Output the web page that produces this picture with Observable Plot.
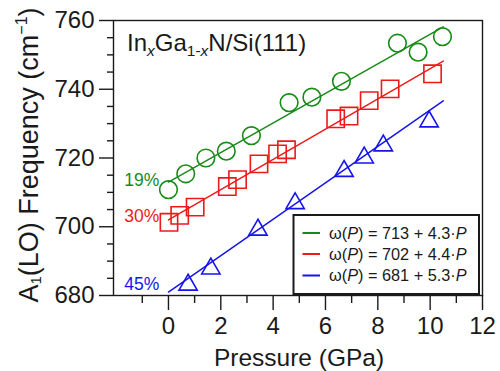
<!DOCTYPE html>
<html><head><meta charset="utf-8">
<script src="https://cdn.jsdelivr.net/npm/d3@7"></script>
<script src="https://cdn.jsdelivr.net/npm/@observablehq/plot@0.6"></script>
<style>
html,body{margin:0;padding:0;background:#fff;}
#chart svg{font-family:"Liberation Sans",Arial,Helvetica,sans-serif;display:block;}
</style></head><body><div id="chart"></div>
<script>
// ---- data ----
const pGreen = [0, 0.66, 1.43, 2.21, 3.17, 4.61, 5.48, 6.61, 8.75, 9.54, 10.47];
const wGreen = [710.8, 715.4, 720.0, 722.0, 726.5, 736.1, 737.7, 742.3, 753.4, 750.8, 755.3];
const pRed = [0.02, 0.43, 1.02, 2.25, 2.64, 3.46, 4.17, 4.51, 6.39, 6.9, 7.67, 8.47, 10.09];
const wRed = [701.3, 703.3, 705.7, 711.7, 713.7, 718.3, 721.2, 722.4, 731.4, 732.2, 736.7, 740.1, 744.5];
const pBlue = [0.75, 1.62, 3.42, 4.84, 6.71, 7.48, 8.21, 9.96];
const wBlue = [683.1, 687.8, 699.1, 706.8, 716.2, 720.1, 723.6, 730.6];

const fitIntercepts = [713, 702, 681];
const fitSlopes = [4.3, 4.4, 5.3];
const fitRange = [0, 10.5];
const seriesNames = ["19%", "30%", "45%"];
const labelAnchors = [713.5, 703.0, 683.2];

const xMajorTicks = [0, 2, 4, 6, 8, 10, 12];
const xMinorTicks = [-1, 1, 3, 5, 7, 9, 11];
const yMajorTicks = [680, 700, 720, 740, 760];
const yMinorTicks = [685, 690, 695, 705, 710, 715, 725, 730, 735, 745, 750, 755];

const colors = ["#178a17", "#ee1a1a", "#1414ee"];
const ink = "#1a1a1a";

// ---- build tables ----
const toPts = (ps, ws) => ps.map((p, i) => ({p, w: ws[i]}));
const green = toPts(pGreen, wGreen), red = toPts(pRed, wRed), blue = toPts(pBlue, wBlue);
const fitLines = fitIntercepts.flatMap((a, k) =>
  fitRange.map(p => ({k, p, w: a + fitSlopes[k] * p})));
const labels = seriesNames.map((t, k) => ({t, k, w: labelAnchors[k]}));

const plot = Plot.plot({
  width: 500, height: 371,
  marginLeft: 113, marginRight: 18, marginTop: 20, marginBottom: 76,
  x: {domain: [-2.1, 12]},
  y: {domain: [680, 760]},
  style: {fontFamily: '"Liberation Sans",Arial,Helvetica,sans-serif', color: ink, background: "white", overflow: "visible"},
  marks: [
    Plot.axisX(xMajorTicks, {tickSize: 15, tickPadding: 6, fontSize: 24, strokeWidth: 1.4, label: null, tickFormat: d => String(d)}),
    Plot.axisX(xMinorTicks, {tickSize: 8, strokeWidth: 1.4, text: null, label: null}),
    Plot.axisY(yMajorTicks, {tickSize: 14, tickPadding: 5, fontSize: 24, strokeWidth: 1.4, label: null, tickFormat: d => String(d)}),
    Plot.axisY(yMinorTicks, {tickSize: 6, strokeWidth: 1.4, text: null, label: null}),
    Plot.line(fitLines, {x: "p", y: "w", z: "k", stroke: d => colors[d.k], strokeWidth: 1.5}),
    Plot.dot(green, {x: "p", y: "w", r: 8.8, stroke: colors[0], strokeWidth: 1.6, fill: "none"}),
    Plot.dot(red, {x: "p", y: "w", r: 9.76, symbol: "square", stroke: colors[1], strokeWidth: 1.6, fill: "none"}),
    Plot.dot(blue, {x: "p", y: "w", r: 6.8, symbol: "triangle", stroke: colors[2], strokeWidth: 1.6, fill: "none"}),
    Plot.text(labels, {x: -0.35, y: "w", text: "t", fill: d => colors[d.k], textAnchor: "end", fontSize: 17.5}),
    Plot.frame({stroke: ink, strokeWidth: 1.4})
  ]
});
document.getElementById("chart").appendChild(plot);

// ---- annotations: title, axis titles, legend ----
const svg = d3.select(plot);
const FF = '"Liberation Sans",Arial,Helvetica,sans-serif';

// panel title InxGa1-xN/Si(111)
const t = svg.append("text").attr("x", 127).attr("y", 51).attr("text-anchor", "start")
  .attr("font-size", 24).attr("fill", ink).attr("font-family", FF);
t.append("tspan").text("In");
t.append("tspan").attr("font-size", 15.5).attr("dy", 5).attr("font-style", "italic").text("x");
t.append("tspan").attr("dy", -5).text("Ga");
t.append("tspan").attr("font-size", 15.5).attr("dy", 5).text("1-");
t.append("tspan").attr("font-size", 15.5).attr("font-style", "italic").text("x");
t.append("tspan").attr("dy", -5).text("N/Si(111)");

// x axis title
svg.append("text").attr("x", 299).attr("y", 366).attr("text-anchor", "middle")
  .attr("font-size", 24.5).attr("fill", ink).attr("font-family", FF).text("Pressure (GPa)");

// y axis title
const yt = svg.append("text").attr("transform", "translate(38,155) rotate(-90)")
  .attr("text-anchor", "middle").attr("font-size", 27).attr("fill", ink).attr("font-family", FF);
yt.append("tspan").text("A");
yt.append("tspan").attr("font-size", 15).attr("dy", 3).text("1");
yt.append("tspan").attr("dy", -3).text("(LO) Frequency (cm");
yt.append("tspan").attr("font-size", 16).attr("dy", -11).text("\u22121");
yt.append("tspan").attr("dy", 11).text(")");

// legend
const lg = svg.append("g").attr("font-family", FF).attr("text-anchor", "start");
lg.append("rect").attr("x", 293.5).attr("y", 215).attr("width", 185.5).attr("height", 79)
  .attr("fill", "white").attr("stroke", ink).attr("stroke-width", 2);
const rowY = [233, 254, 275.5];
fitIntercepts.forEach((a, k) => {
  lg.append("line").attr("x1", 302.5).attr("x2", 320).attr("y1", rowY[k]).attr("y2", rowY[k])
    .attr("stroke", colors[k]).attr("stroke-width", 2);
  const tx = lg.append("text").attr("x", 329).attr("y", rowY[k] + 5.5).attr("text-anchor", "start")
    .attr("font-size", 16.3).attr("fill", ink);
  tx.append("tspan").text("\u03c9(");
  tx.append("tspan").attr("font-style", "italic").text("P");
  tx.append("tspan").text(") = " + a + " + " + fitSlopes[k].toFixed(1) + "\u00b7");
  tx.append("tspan").attr("font-style", "italic").text("P");
});
</script></body></html>
